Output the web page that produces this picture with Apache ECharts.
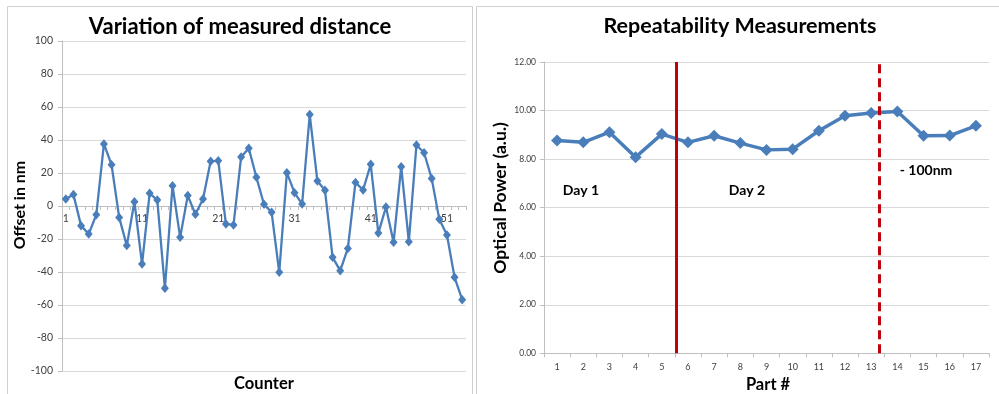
<!DOCTYPE html>
<html>
<head>
<meta charset="utf-8">
<script src="https://cdn.jsdelivr.net/npm/echarts@6/dist/echarts.min.js"></script>
<style>html,body{margin:0;padding:0;background:#fff}#c{width:999px;height:394px}</style>
</head>
<body>
<div id="c"></div>
<script>
// Left chart: Variation of measured distance
var counterCategories = [];
for (var i = 1; i <= 53; i++) counterCategories.push(String(i));
var offsetValues = [4.2, 6.9, -11.9, -17, -5.3, 37.6, 25, -6.9, -24, 2.6,
  -35.2, 7.7, 3.6, -49.9, 12.3, -19, 6.3, -5, 4.2, 27.1,
  27.5, -10.9, -11.5, 29.7, 35, 17.4, 1, -3.8, -40.2, 20.2,
  8.1, 1.2, 55.4, 15.2, 9.5, -31.1, -39.2, -25.7, 14.3, 9.7,
  25.3, -16.4, -0.6, -22, 23.8, -21.6, 37, 32.3, 16.6, -8.1,
  -17.6, -43.2, -56.8];
var offsetRange = [-100, 100];

// Right chart: Repeatability Measurements
var partCategories = ['1','2','3','4','5','6','7','8','9','10','11','12','13','14','15','16','17'];
var powerValues = [8.77, 8.69, 9.11, 8.08, 9.03, 8.69, 8.96, 8.66, 8.38, 8.41, 9.17, 9.79, 9.90, 9.96, 8.96, 8.97, 9.37];
var powerRange = [0, 12];
// divider positions in part-number units
var dayDivider = 5.54;
var changeDivider = 13.31;

var BLUE = '#4a7ebb';
var RED = '#c0000a';
var GRID = '#d9d9d9';
var AXIS = '#bfbfbf';
var LABEL = '#404040';
var FONT = 'Lato, "Open Sans", sans-serif';

var LEFT_GRID_H = 330;

var chart = echarts.init(document.getElementById('c'), null, {renderer: 'canvas'});
chart.setOption({
  animation: false,
  backgroundColor: '#fff',
  grid: [
    {left: 62, top: 41, width: 404, height: LEFT_GRID_H},
    {left: 544, top: 62, width: 445, height: 291.3}
  ],
  xAxis: [
    {
      type: 'category', gridIndex: 0, data: counterCategories, boundaryGap: true,
      position: 'bottom', offset: -LEFT_GRID_H / 2,
      axisLine: {onZero: false, lineStyle: {color: AXIS, width: 1}},
      axisTick: {show: true, interval: 0, length: 4, lineStyle: {color: AXIS}},
      axisLabel: {interval: 9, color: LABEL, fontSize: 10.5, fontFamily: FONT, margin: 7},
      splitLine: {show: false}
    },
    {
      type: 'category', gridIndex: 1, data: partCategories, boundaryGap: true,
      axisLine: {lineStyle: {color: AXIS, width: 1}},
      axisTick: {show: true, interval: 0, length: 4, lineStyle: {color: AXIS}},
      axisLabel: {interval: 0, color: LABEL, fontSize: 9, fontFamily: FONT, margin: 9},
      splitLine: {show: false}
    },
    {
      type: 'value', gridIndex: 1, min: 0.5, max: 17.5, show: false
    }
  ],
  yAxis: [
    {
      type: 'value', gridIndex: 0, min: offsetRange[0], max: offsetRange[1], interval: 20,
      axisLine: {show: true, lineStyle: {color: AXIS}},
      axisTick: {show: true, length: 4, lineStyle: {color: AXIS}},
      axisLabel: {color: LABEL, fontSize: 10.5, fontFamily: FONT, margin: 9},
      splitLine: {lineStyle: {color: GRID, width: 1}}
    },
    {
      type: 'value', gridIndex: 1, min: powerRange[0], max: powerRange[1], interval: 2,
      axisLine: {show: true, lineStyle: {color: AXIS}},
      axisTick: {show: true, length: 4, lineStyle: {color: AXIS}},
      axisLabel: {color: LABEL, fontSize: 8.5, fontFamily: FONT, margin: 8,
        formatter: function (v) { return v.toFixed(2); }},
      splitLine: {lineStyle: {color: GRID, width: 1}}
    }
  ],
  series: [
    {
      type: 'line', xAxisIndex: 0, yAxisIndex: 0, data: offsetValues,
      symbol: 'diamond', symbolSize: [8, 9.5], showAllSymbol: true,
      lineStyle: {color: BLUE, width: 2.3},
      itemStyle: {color: BLUE},
      z: 3
    },
    {
      type: 'line', xAxisIndex: 1, yAxisIndex: 1, data: powerValues,
      symbol: 'diamond', symbolSize: [12, 12], showAllSymbol: true,
      lineStyle: {color: BLUE, width: 3.5},
      itemStyle: {color: BLUE},
      z: 3
    },
    {
      type: 'line', xAxisIndex: 2, yAxisIndex: 1, data: [],
      markLine: {
        silent: true, symbol: 'none', label: {show: false},
        data: [
          {xAxis: dayDivider, lineStyle: {color: RED, width: 3, type: 'solid'}},
          {xAxis: changeDivider, lineStyle: {color: RED, width: 3, type: [9, 5]}}
        ]
      }
    }
  ],
  graphic: [
    {type: 'rect', shape: {x: 7.5, y: 6.5, width: 465, height: 400}, style: {fill: 'none', stroke: '#d0d0d0', lineWidth: 1}, z: -10},
    {type: 'rect', shape: {x: 476.5, y: 6.5, width: 540, height: 400}, style: {fill: 'none', stroke: '#d0d0d0', lineWidth: 1}, z: -10},
    {type: 'text', x: 240, y: 27, style: {text: 'Variation of measured distance', font: 'bold 22px ' + FONT, fill: '#000', textAlign: 'center', textVerticalAlign: 'middle'}},
    {type: 'text', x: 740, y: 26, style: {text: 'Repeatability Measurements', font: 'bold 21.5px ' + FONT, fill: '#000', textAlign: 'center', textVerticalAlign: 'middle'}},
    {type: 'text', x: 264, y: 384, style: {text: 'Counter', font: 'bold 16.5px ' + FONT, fill: '#000', textAlign: 'center', textVerticalAlign: 'middle'}},
    {type: 'text', x: 768, y: 385, style: {text: 'Part #', font: 'bold 16.5px ' + FONT, fill: '#000', textAlign: 'center', textVerticalAlign: 'middle'}},
    {type: 'text', x: 20, y: 205, rotation: Math.PI / 2, style: {text: 'Offset in nm', font: 'bold 16px ' + FONT, fill: '#000', textAlign: 'center', textVerticalAlign: 'middle'}},
    {type: 'text', x: 500, y: 198, rotation: Math.PI / 2, style: {text: 'Optical Power (a.u.)', font: 'bold 17.5px ' + FONT, fill: '#000', textAlign: 'center', textVerticalAlign: 'middle'}},
    {type: 'text', x: 581, y: 190, style: {text: 'Day 1', font: 'bold 14px ' + FONT, fill: '#000', textAlign: 'center', textVerticalAlign: 'middle'}},
    {type: 'text', x: 747, y: 190, style: {text: 'Day 2', font: 'bold 14px ' + FONT, fill: '#000', textAlign: 'center', textVerticalAlign: 'middle'}},
    {type: 'text', x: 926, y: 170, style: {text: '- 100nm', font: 'bold 14px ' + FONT, fill: '#000', textAlign: 'center', textVerticalAlign: 'middle'}}
  ]
});
</script>
</body>
</html>
